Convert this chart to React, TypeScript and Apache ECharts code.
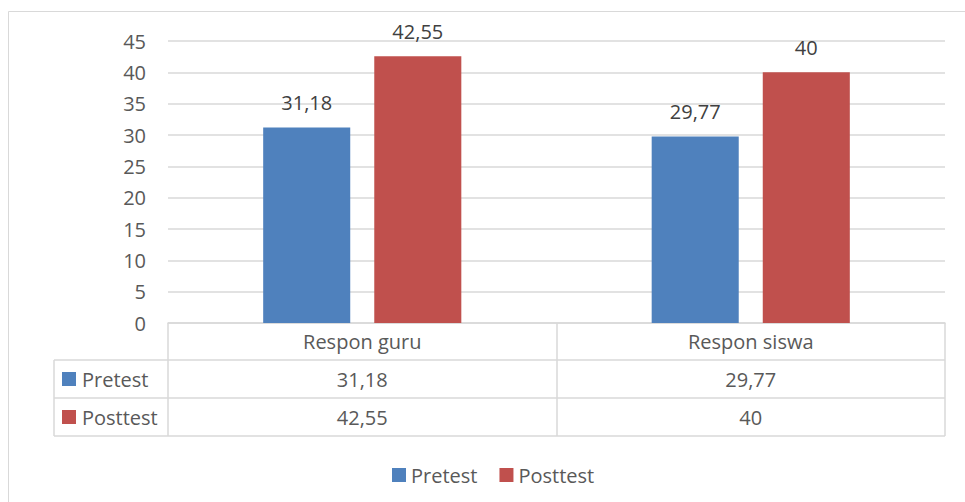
import React, { useEffect, useRef } from "react";
import * as echarts from "echarts";

const categories = ["Respon guru", "Respon siswa"];
const seriesNames = ["Pretest", "Posttest"];
const pretest = [31.18, 29.77];
const posttest = [42.55, 40];
const yMin = 0;
const yMax = 45;
const yInterval = 5;

const colors = ["#4F81BD", "#C0504D"];
const FONT = "Open Sans";
const TXT = "#595959";
const LINE = "#d9d9d9";

const fmt = (v: number) => String(v).replace(".", ",");

export default function App() {
  const ref = useRef<HTMLDivElement>(null);
  useEffect(() => {
    if (!ref.current) return;
    const chart = echarts.init(ref.current, undefined, { renderer: "svg" });
    const seriesData = [pretest, posttest];
    const tableRowY = [379, 417];
    const option: any = {
      animation: false,
      textStyle: { fontFamily: FONT },
      grid: { left: 168, right: 20, top: 41, bottom: 179, containLabel: false },
      legend: {
        data: seriesNames,
        left: 392,
        top: 465,
        padding: 0,
        icon: "rect",
        itemWidth: 14,
        itemHeight: 14,
        itemGap: 22,
        textStyle: { fontSize: 20, color: TXT, fontFamily: FONT },
      },
      xAxis: [
        {
          type: "category",
          data: categories,
          position: "bottom",
          axisLine: { show: true, lineStyle: { color: LINE, width: 1.5 } },
          axisTick: { show: true, length: 113, lineStyle: { color: LINE, width: 1.5 } },
          axisLabel: { margin: 18, verticalAlign: "middle", fontSize: 20, color: TXT, fontFamily: FONT },
        },
        ...seriesData.map((d, i) => ({
          type: "category",
          data: d.map(fmt),
          position: "bottom",
          offset: tableRowY[i] - 323,
          axisLine: { show: false },
          axisTick: { show: false },
          axisLabel: { margin: 0, verticalAlign: "middle", fontSize: 20, color: TXT, fontFamily: FONT },
        })),
      ],
      yAxis: {
        type: "value",
        min: yMin,
        max: yMax,
        interval: yInterval,
        axisLine: { show: false },
        axisTick: { show: false },
        axisLabel: { margin: 22, fontSize: 20, color: TXT, fontFamily: FONT },
        splitLine: { lineStyle: { color: LINE, width: 1.5 } },
      },
      series: seriesNames.map((name, i) => ({
        name,
        type: "bar",
        xAxisIndex: 0,
        data: seriesData[i],
        barGap: "27.6%",
        barCategoryGap: "49%",
        itemStyle: { color: colors[i] },
        label: {
          show: true,
          position: "top",
          distance: 15,
          fontSize: 20,
          color: "#404040",
          fontFamily: FONT,
          formatter: (p: any) => fmt(p.value),
        },
      })),
      graphic: [
        {
          type: "rect",
          shape: { x: 8.5, y: 11.5, width: 1000, height: 600 },
          style: { fill: "none", stroke: LINE, lineWidth: 1 },
          silent: true,
        },
        ...[360, 398, 436].map((y) => ({
          type: "line",
          shape: { x1: 54, y1: y, x2: 945, y2: y },
          style: { stroke: LINE, lineWidth: 1.5 },
          silent: true,
        })),
        {
          type: "line",
          shape: { x1: 54, y1: 360, x2: 54, y2: 436 },
          style: { stroke: LINE, lineWidth: 1.5 },
          silent: true,
        },
        ...seriesNames.flatMap((name, i) => [
          {
            type: "rect",
            shape: { x: 62, y: tableRowY[i] - 7, width: 14, height: 14 },
            style: { fill: colors[i] },
            silent: true,
          },
          {
            type: "text",
            x: 82,
            y: tableRowY[i],
            style: {
              text: name,
              fontSize: 20,
              fontFamily: FONT,
              fill: TXT,
              textVerticalAlign: "middle",
              verticalAlign: "middle",
            },
            silent: true,
          },
        ]),
      ],
    };
    chart.setOption(option);
    return () => chart.dispose();
  }, []);
  return (
    <div
      ref={ref}
      style={{ position: "absolute", left: 0, top: 0, width: 965, height: 502, background: "#fff" }}
    />
  );
}
